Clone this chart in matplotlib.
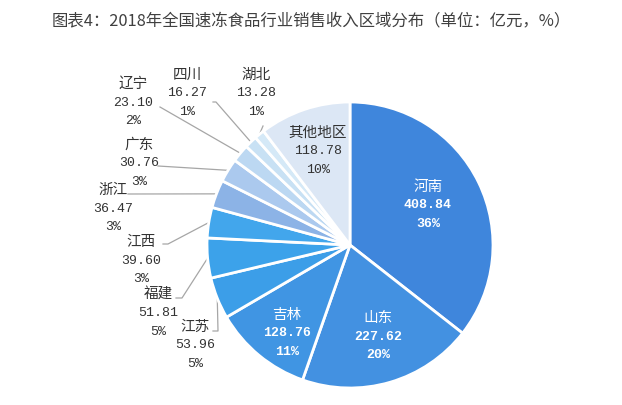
import matplotlib
matplotlib.use('Agg')
import matplotlib.pyplot as plt
import numpy as np

plt.rcParams['font.family'] = ['Noto Sans CJK SC', 'DejaVu Sans']

regions = ['河南', '山东', '吉林', '江苏', '福建', '江西', '浙江', '广东', '辽宁', '四川', '湖北', '其他地区']
values = [408.84, 227.62, 128.76, 53.96, 51.81, 39.60, 36.47, 30.76, 23.10, 16.27, 13.28, 118.78]
shares = ['36%', '20%', '11%', '5%', '5%', '3%', '3%', '3%', '2%', '1%', '1%', '10%']
colors = ['#3f86dc', '#4391e1', '#4095e3', '#3c9ee8', '#3ca2ea', '#42a6ec',
          '#8cb3e6', '#abc9ee', '#bcd8f2', '#c8e1f4', '#d5e9f7', '#dce7f5']

W, H = 622, 405
fig = plt.figure(figsize=(W / 100, H / 100), dpi=100)
ax = fig.add_axes([0, 0, 1, 1])

cx, cy, R = 350, H - 245, 143
wedges, _ = ax.pie(values, colors=colors, startangle=90, counterclock=False,
                   radius=R, center=(cx, cy),
                   wedgeprops=dict(edgecolor='white', linewidth=2))
ax.set_xlim(0, W)
ax.set_ylim(0, H)
ax.set_aspect('equal')
ax.axis('off')

num_font = ['Liberation Mono', 'Noto Sans CJK SC']


def label(i, x, y, color, bold=False, dy=18.5):
    # three lines: name, value, share  (x, y in pixels from the top)
    w = 'bold' if bold else 'normal'
    ax.text(x, H - y, regions[i], ha='center', va='center', fontsize=10.5, color=color)
    ax.text(x, H - y - dy, f'{values[i]:.2f}', ha='center', va='center', fontsize=9.5,
            color=color, family=num_font, fontweight=w)
    ax.text(x, H - y - 2 * dy, shares[i], ha='center', va='center', fontsize=9.5,
            color=color, family=num_font, fontweight=w)


# inside labels
label(0, 428, 187, 'white', bold=True)
label(1, 378, 318, 'white', bold=True)
label(2, 287, 315, 'white', bold=True)
label(11, 318, 133, '#333333')

# outside labels: index, text x, text y, leader start, optional stub end
outside = [
    (3, 195, 327, (213, 331), (218, 331)),
    (4, 158, 295, (176, 298), (182, 298)),
    (5, 141, 242, (163, 244), (168, 244)),
    (6, 113, 190, (128, 194), None),
    (7, 139, 145, (158, 166), None),
    (8, 133, 84, (160, 107), None),
    (9, 187, 75, (213, 102), (216, 102)),
    (10, 256, 75, (263, 126), None),
]
for i, tx, ty, start, stub in outside:
    label(i, tx, ty, '#333333')
    wg = wedges[i]
    mid = np.deg2rad((wg.theta1 + wg.theta2) / 2)
    px, py = cx + R * np.cos(mid), cy + R * np.sin(mid)
    xs = [start[0]]
    ys = [H - start[1]]
    if stub:
        xs.append(stub[0])
        ys.append(H - stub[1])
    xs.append(px)
    ys.append(py)
    ax.plot(xs, ys, color='#a6a6a6', lw=0.9, zorder=0)

fig.text(52 / W, 1 - 21 / H, '图表4：2018年全国速冻食品行业销售收入区域分布（单位：亿元，%）',
         ha='left', va='center', fontsize=11.8, color='#404040')

fig.savefig('out.png', dpi=100, facecolor='white')
